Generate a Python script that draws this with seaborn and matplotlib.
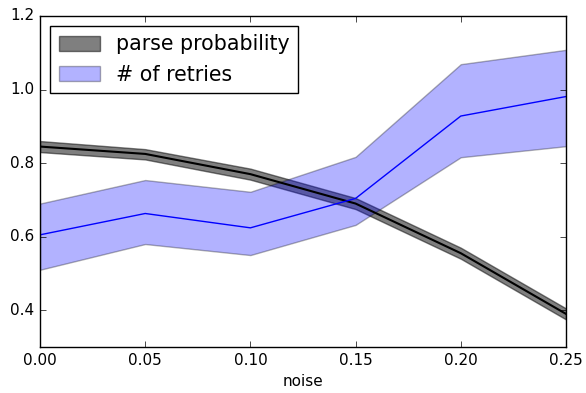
import matplotlib
matplotlib.use("Agg")
import matplotlib.pyplot as plt
import seaborn as sns
import numpy as np
import pandas as pd

noise = [0.00, 0.05, 0.10, 0.15, 0.20, 0.25]
parse_mean = [0.845, 0.825, 0.770, 0.690, 0.555, 0.390]
parse_lo = [0.830, 0.810, 0.755, 0.675, 0.540, 0.375]
parse_hi = [0.860, 0.838, 0.785, 0.705, 0.570, 0.405]
retry_mean = [0.605, 0.663, 0.624, 0.704, 0.928, 0.981]
retry_lo = [0.510, 0.580, 0.550, 0.632, 0.816, 0.846]
retry_hi = [0.690, 0.754, 0.722, 0.817, 1.069, 1.108]
xticks = [0.00, 0.05, 0.10, 0.15, 0.20, 0.25]
yticks = [0.4, 0.6, 0.8, 1.0, 1.2]

plt.style.use("classic")
plt.rcParams["font.family"] = ["DejaVu Sans"]

df = pd.DataFrame({"noise": noise, "parse": parse_mean, "retry": retry_mean})

fig = plt.figure(figsize=(5.86, 3.93), dpi=100, facecolor="white")
ax = fig.add_axes([40/586, 1-347/393, 526/586, 331/393])
ax.set_facecolor("white")

b1 = ax.fill_between(noise, parse_lo, parse_hi, facecolor="black", alpha=0.5,
                     edgecolor="black", label="parse probability")
sns.lineplot(data=df, x="noise", y="parse", ax=ax, color="black", lw=1.5, legend=False)
b2 = ax.fill_between(noise, retry_lo, retry_hi, facecolor="blue", alpha=0.3,
                     edgecolor="black", label="# of retries")
sns.lineplot(data=df, x="noise", y="retry", ax=ax, color="blue", lw=1.0, legend=False)

ax.set_xlim(0, 0.25)
ax.set_ylim(0.3, 1.2)
ax.set_xticks(xticks)
ax.set_xticklabels([f"{t:.2f}" for t in xticks], fontsize=11)
ax.set_yticks(yticks)
ax.set_yticklabels([f"{t:.1f}" for t in yticks], fontsize=11)
ax.set_xlabel("noise", fontsize=11)
ax.set_ylabel("")
ax.tick_params(direction="in", top=True, right=True, length=4)

leg = ax.legend(handles=[b1, b2], loc="upper left", fontsize=14.8, handlelength=2,
                frameon=True, fancybox=False)
leg.get_frame().set_edgecolor("black")

fig.savefig("out.png", dpi=100, facecolor="white")
